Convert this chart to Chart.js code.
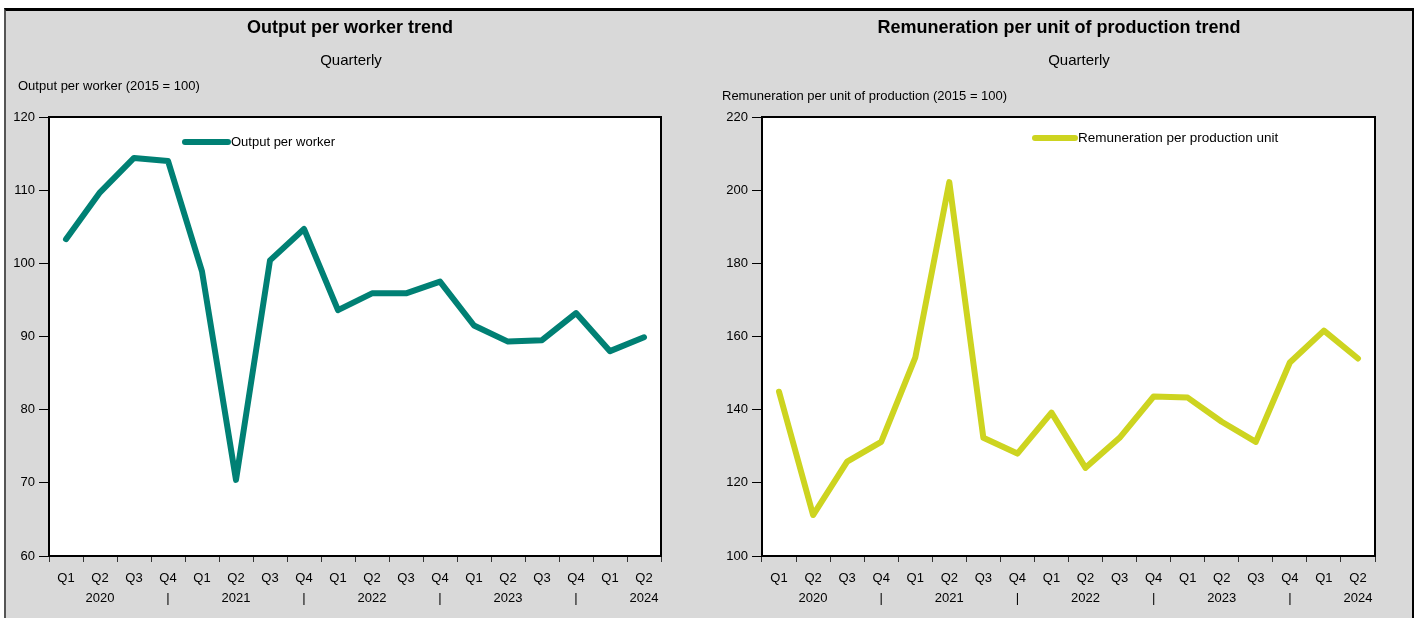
<!DOCTYPE html>
<html>
<head>
<meta charset="utf-8">
<script src="https://cdn.jsdelivr.net/npm/chart.js@4.4.1/dist/chart.umd.min.js"></script>
<style>
    body { margin: 0; background: #ffffff; }
    #frame {
        position: absolute; left: 4px; top: 8px;
        width: 1406px; height: 607px;
        background: #d9d9d9;
        border-top: 3px solid #000;
        border-left: 2px solid #555;
        border-right: 2px solid #000;
        display: flex;
    }
    canvas { display: block; }
</style>
</head>
<body>
<div id="frame">
    <canvas id="outputChart" width="700" height="607"></canvas>
    <canvas id="remunerationChart" width="706" height="607"></canvas>
</div>
<script>
var quarters = ['Q1', 'Q2', 'Q3', 'Q4', 'Q1', 'Q2', 'Q3', 'Q4', 'Q1', 'Q2', 'Q3', 'Q4', 'Q1', 'Q2', 'Q3', 'Q4', 'Q1', 'Q2'];
var yearRow = ['', '2020', '', '|', '', '2021', '', '|', '', '2022', '', '|', '', '2023', '', '|', '', '2024'];

var outputPerWorker = [103.3, 109.7, 114.4, 114.0, 98.9, 70.4, 100.4, 104.7, 93.6, 95.9, 95.9, 97.5, 91.5, 89.3, 89.5, 93.2, 88.0, 89.9];
var remunerationPerUnit = [144.9, 111.2, 125.8, 131.2, 154.2, 202.2, 132.3, 128.0, 139.2, 124.1, 132.3, 143.6, 143.3, 136.7, 131.2, 152.9, 161.6, 154.0];

var outputTicks = [60, 70, 80, 90, 100, 110, 120];
var remunerationTicks = [100, 120, 140, 160, 180, 200, 220];

var FONT = "'Liberation Sans', Arial, sans-serif";

// white plot area, frame, titles, caption above y axis, legend inside plot
var plotExtras = {
    id: 'plotExtras',
    beforeDraw: function(chart) {
        var a = chart.chartArea;
        var ctx = chart.ctx;
        ctx.save();
        ctx.fillStyle = '#ffffff';
        ctx.fillRect(a.left, a.top, a.right - a.left, a.bottom - a.top);
        ctx.restore();
    },
    afterDraw: function(chart, args, opts) {
        var ctx = chart.ctx;
        var area = chart.chartArea;
        var ds = chart.data.datasets[0];

        ctx.save();
        ctx.strokeStyle = '#000';
        ctx.lineWidth = 2;
        ctx.strokeRect(area.left, area.top, area.right - area.left, area.bottom - area.top);

        ctx.fillStyle = '#000';
        ctx.textBaseline = 'middle';
        ctx.textAlign = 'center';
        ctx.font = 'bold 18px ' + FONT;
        ctx.fillText(opts.title, opts.titleX, 17);
        ctx.font = '15px ' + FONT;
        ctx.fillText('Quarterly', opts.subtitleX, 50);

        ctx.textAlign = 'left';
        ctx.font = opts.captionSize + 'px ' + FONT;
        ctx.fillText(opts.caption, opts.captionX, opts.captionY);

        var ly = area.top + opts.legendY;
        var lx = area.left + opts.legendX;
        ctx.strokeStyle = ds.borderColor;
        ctx.lineWidth = 6;
        ctx.lineCap = 'round';
        ctx.beginPath();
        ctx.moveTo(lx, ly);
        ctx.lineTo(lx + opts.legendLen, ly);
        ctx.stroke();
        ctx.font = opts.legendSize + 'px ' + FONT;
        ctx.fillText(ds.label, lx + opts.legendLen + 3, ly);
        ctx.restore();
    }
};

function makeTrendChart(canvasId, cfg) {
    'use strict';

    var labels = quarters.map(function(q, i) { return [q, yearRow[i]]; });
    var ctx = document.getElementById(canvasId).getContext('2d');

    return new Chart(ctx, {
        type: 'line',
        data: {
            labels: labels,
            datasets: [{
                label: cfg.label,
                data: cfg.values,
                borderColor: cfg.color,
                borderWidth: 6,
                borderCapStyle: 'round',
                borderJoinStyle: 'round',
                pointRadius: 0,
                tension: 0,
                fill: false
            }]
        },
        options: {
            responsive: false,
            animation: false,
            layout: { padding: { left: 0, right: cfg.padRight, top: 106, bottom: 0 } },
            plugins: {
                legend: { display: false },
                tooltip: { enabled: false },
                title: { display: false },
                plotExtras: cfg.extras
            },
            scales: {
                x: {
                    offset: true,
                    grid: { offset: true, drawOnChartArea: false, drawTicks: true, tickLength: 6, color: '#333', lineWidth: 1 },
                    border: { color: '#000', width: 2 },
                    ticks: {
                        color: '#000',
                        autoSkip: false,
                        maxRotation: 0,
                        padding: 7,
                        font: { family: FONT, size: 13, lineHeight: 1.5 }
                    },
                    afterFit: function(scale) { scale.height = 62; }
                },
                y: {
                    min: cfg.ticks[0],
                    max: cfg.ticks[cfg.ticks.length - 1],
                    afterBuildTicks: function(scale) {
                        scale.ticks = cfg.ticks.map(function(v) { return { value: v }; });
                    },
                    grid: { drawOnChartArea: false, drawTicks: true, tickLength: 10, color: '#000' },
                    border: { color: '#000', width: 2 },
                    ticks: {
                        color: '#000',
                        padding: 4,
                        font: { family: FONT, size: 13 }
                    },
                    afterFit: function(scale) { scale.width = cfg.axisWidth; }
                }
            }
        },
        plugins: [plotExtras]
    });
}

makeTrendChart('outputChart', {
    label: 'Output per worker',
    values: outputPerWorker,
    ticks: outputTicks,
    color: '#008074',
    axisWidth: 43,
    padRight: 45,
    extras: {
        title: 'Output per worker trend', titleX: 344, subtitleX: 345,
        caption: 'Output per worker (2015 = 100)', captionSize: 13, captionX: 12, captionY: 75,
        legendX: 136, legendY: 25, legendLen: 43, legendSize: 13
    }
});

makeTrendChart('remunerationChart', {
    label: 'Remuneration per production unit',
    values: remunerationPerUnit,
    ticks: remunerationTicks,
    color: '#cdd420',
    axisWidth: 56,
    padRight: 37,
    extras: {
        title: 'Remuneration per unit of production trend', titleX: 353, subtitleX: 373,
        caption: 'Remuneration per unit of production (2015 = 100)', captionSize: 13, captionX: 16, captionY: 85,
        legendX: 273, legendY: 21, legendLen: 40, legendSize: 13.5
    }
});
</script>
</body>
</html>
